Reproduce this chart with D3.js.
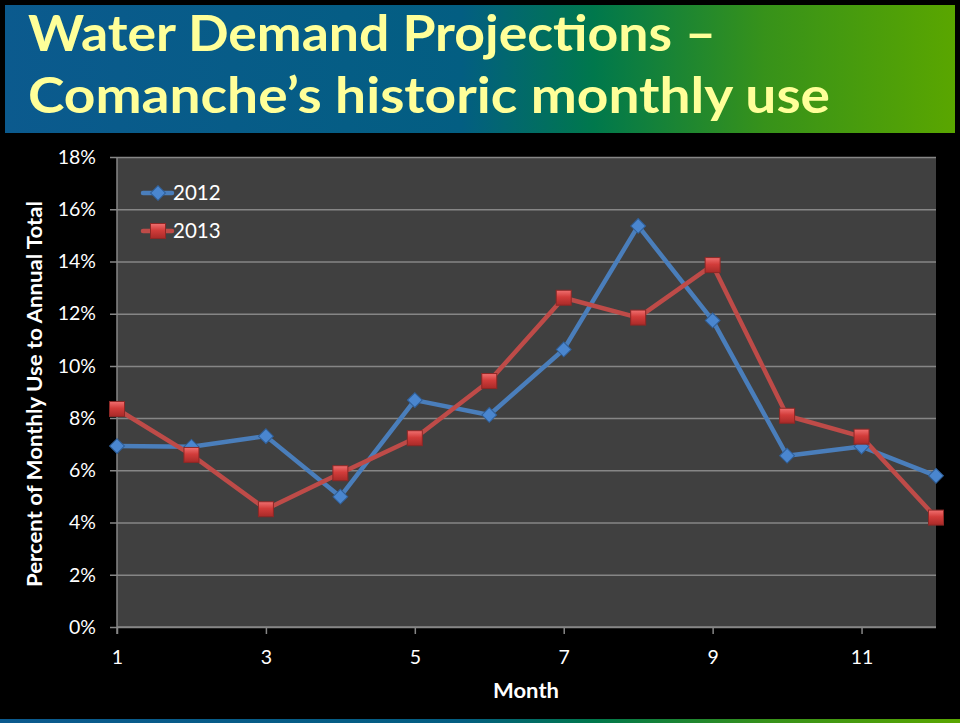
<!DOCTYPE html>
<html>
<head>
<meta charset="utf-8">
<script src="https://cdn.jsdelivr.net/npm/d3@7/dist/d3.min.js"></script>
<style>
  body { margin: 0; background: #000; }
  svg { display: block; }
</style>
</head>
<body>
<svg id="vis" width="960" height="723"></svg>
<script>
// data
const months = [1, 2, 3, 4, 5, 6, 7, 8, 9, 10, 11, 12];
const use2012 = [6.93, 6.9, 7.31, 4.99, 8.69, 8.12, 10.63, 15.36, 11.74, 6.56, 6.91, 5.79];
const use2013 = [8.35, 6.59, 4.51, 5.89, 7.23, 9.42, 12.61, 11.85, 13.86, 8.09, 7.29, 4.19];
const yTicks = [0, 2, 4, 6, 8, 10, 12, 14, 16, 18];
const xTicks = [1, 3, 5, 7, 9, 11];
const titleLines = ["Water Demand Projections \u2013", "Comanche\u2019s historic monthly use"];

const svg = d3.select("#vis");
const defs = svg.append("defs");
const font = "Lato, 'Open Sans', sans-serif";

// banner gradient
const bg = defs.append("linearGradient").attr("id", "banner");
[["0%", "#0b5a8e"], ["48%", "#035e82"], ["62%", "#00784c"], ["80%", "#37921a"], ["100%", "#5aa600"]]
  .forEach(s => bg.append("stop").attr("offset", s[0]).attr("stop-color", s[1]));

// red square shading
const rg = defs.append("linearGradient").attr("id", "sq").attr("x1", 0).attr("y1", 0).attr("x2", 0).attr("y2", 1);
[["0%", "#f07070"], ["45%", "#d23c3a"], ["100%", "#a82a28"]]
  .forEach(s => rg.append("stop").attr("offset", s[0]).attr("stop-color", s[1]));

// title banner
svg.append("rect").attr("x", 5).attr("y", 5).attr("width", 950).attr("height", 128).attr("fill", "url(#banner)");
svg.append("rect").attr("x", 0).attr("y", 719).attr("width", 960).attr("height", 4).attr("fill", "url(#banner)");

svg.selectAll(".title")
  .data(titleLines)
  .join("text")
  .attr("class", "title")
  .attr("x", 28)
  .attr("y", (d, i) => 51 + i * 62)
  .attr("textLength", (d, i) => i === 0 ? 688 : 802)
  .attr("lengthAdjust", "spacingAndGlyphs")
  .style("font-family", font)
  .style("font-weight", "bold")
  .style("font-size", "49px")
  .style("fill", "#ffff99")
  .text(d => d);

// scales
const x = d3.scaleLinear().domain([1, 12]).range([117, 936]);
const y = d3.scaleLinear().domain([0, 18]).range([627, 157]);
const w = x(12) - x(1);

svg.append("rect")
  .attr("x", x(1)).attr("y", y(18))
  .attr("width", w).attr("height", y(0) - y(18))
  .attr("fill", "#404040");

// gridlines + y axis
const yAxis = d3.axisLeft(y)
  .tickValues(yTicks)
  .tickSize(-w)
  .tickPadding(14)
  .tickFormat(d => d + "%");

svg.append("g")
  .attr("class", "axis")
  .attr("transform", `translate(${x(1)},0)`)
  .call(yAxis)
  .call(g => g.select(".domain").remove())
  .call(g => g.selectAll(".tick line").attr("x1", -7).attr("stroke", "#868686").attr("stroke-width", 1.5))
  .call(g => g.selectAll(".tick text")
    .attr("x", -21)
    .style("fill", "#fff").style("font-size", "19.5px").style("font-family", font));

svg.append("line")
  .attr("x1", x(1)).attr("x2", x(1)).attr("y1", y(18)).attr("y2", y(0) + 7)
  .attr("stroke", "#868686").attr("stroke-width", 1.5);

// x axis
const xAxis = d3.axisBottom(x).tickValues(xTicks).tickSize(7).tickPadding(16);
svg.append("g")
  .attr("class", "axis")
  .attr("transform", `translate(0,${y(0)})`)
  .call(xAxis)
  .call(g => g.select(".domain").attr("stroke", "#868686").attr("stroke-width", 1.5).attr("d", `M${x(1)},0H${x(12)}`))
  .call(g => g.selectAll(".tick line").attr("stroke", "#868686").attr("stroke-width", 1.5))
  .call(g => g.selectAll(".tick text")
    .style("fill", "#fff").style("font-size", "19.5px").style("font-family", font));

// axis titles
svg.append("text")
  .attr("transform", `translate(42,${(y(0) + y(18)) / 2 + 2}) rotate(-90)`)
  .attr("text-anchor", "middle")
  .attr("textLength", 386)
  .attr("lengthAdjust", "spacingAndGlyphs")
  .style("fill", "#fff").style("font-weight", "bold").style("font-size", "20px")
  .style("font-family", font)
  .text("Percent of Monthly Use to Annual Total");

svg.append("text")
  .attr("x", 526).attr("y", 698)
  .attr("text-anchor", "middle")
  .attr("textLength", 66)
  .attr("lengthAdjust", "spacingAndGlyphs")
  .style("fill", "#fff").style("font-weight", "bold").style("font-size", "20px")
  .style("font-family", font)
  .text("Month");

// series
const series = [
  { name: "2012", values: use2012, color: "#4a7ebb", marker: "diamond" },
  { name: "2013", values: use2013, color: "#be4b48", marker: "square" }
];

const line = d3.line().x((d, i) => x(months[i])).y(d => y(d));

function drawMarker(g, marker) {
  if (marker === "diamond") {
    g.append("path")
      .attr("d", d3.symbol(d3.symbolSquare, 110)())
      .attr("transform", "rotate(45)")
      .attr("fill", "#4a86cf")
      .attr("stroke", "#2f5f99").attr("stroke-width", 1);
  } else {
    g.append("rect")
      .attr("x", -7.5).attr("y", -7.5).attr("width", 15).attr("height", 15)
      .attr("fill", "url(#sq)")
      .attr("stroke", "#8c2826").attr("stroke-width", 1);
  }
}

series.forEach(s => {
  svg.append("path")
    .datum(s.values)
    .attr("d", line)
    .attr("fill", "none")
    .attr("stroke", s.color)
    .attr("stroke-width", 4.5)
    .attr("stroke-linejoin", "round");
});

series.forEach(s => {
  svg.append("g")
    .selectAll("g")
    .data(s.values)
    .join("g")
    .attr("transform", (d, i) => `translate(${x(months[i])},${y(d)})`)
    .each(function () { drawMarker(d3.select(this), s.marker); });
});

// legend
const legend = svg.append("g")
  .selectAll("g")
  .data(series)
  .join("g")
  .attr("transform", (d, i) => `translate(143,${193 + i * 38})`);

legend.append("line")
  .attr("x1", 0).attr("x2", 29)
  .attr("stroke", d => d.color).attr("stroke-width", 4.5).attr("stroke-linecap", "round");

legend.each(function (d) {
  const g = d3.select(this).append("g").attr("transform", "translate(15,0)");
  drawMarker(g, d.marker);
});

legend.append("text")
  .attr("x", 30).attr("y", 7)
  .style("fill", "#fff").style("font-size", "20.5px")
  .style("font-family", font)
  .text(d => d.name);
</script>
</body>
</html>
